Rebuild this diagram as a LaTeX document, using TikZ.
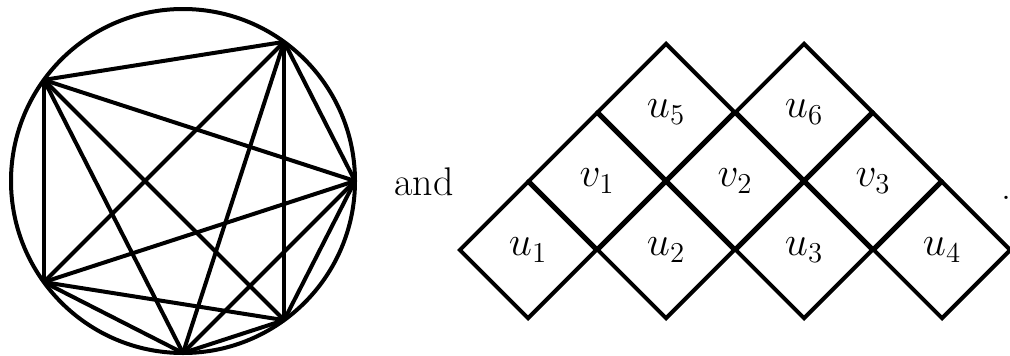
\documentclass[tikz,border=0pt]{standalone}
\usetikzlibrary{shapes.geometric,calc}
\tikzset{chords/.style={x=0.5pt,y=0.5pt,line width=2pt,font=\fontsize{20}{24}\selectfont},
  cell/.style={draw,diamond,aspect=1,minimum size=69pt,inner sep=0pt}}

\begin{document}
\begin{tikzpicture}[chords]
    \useasboundingbox (0,0) rectangle (1010,355);
    \def\r{172}
    \coordinate (c) at (183,174);
    \draw (c) circle (\r);
    \foreach \i/\a in {1/54,2/144,3/216,4/270,5/306,6/0}
      \coordinate (p\i) at ($(c)+(\a:\r)$);
    \foreach \i in {1,...,5} {
      \pgfmathtruncatemacro\k{\i+1}
      \foreach \j in {\k,...,6} \draw (p\i) -- (p\j);
    }
    \node[anchor=base] (and) at (424,160) {and};
    \foreach \n in {1,...,4} \node[cell] (u\n) at ({528+138*(\n-1)},105) {$u_{\n}$};
    \foreach \n in {1,...,3} \node[cell] (v\n) at ({597+138*(\n-1)},174) {$v_{\n}$};
    \foreach \n/\x in {5/666,6/804} \node[cell] (u\n) at (\x,243) {$u_{\n}$};
    \node[anchor=base west,inner sep=0pt] (stop) at (999,156) {.};
  \end{tikzpicture}
\end{document}
